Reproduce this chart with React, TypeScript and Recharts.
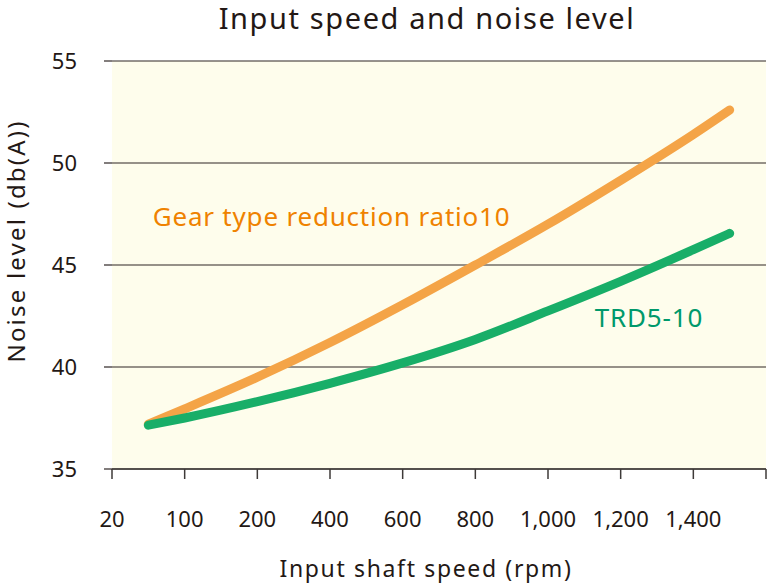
import React from 'react';
import {
  LineChart,
  Line,
  XAxis,
  YAxis,
  CartesianGrid,
  ReferenceDot,
  Label,
} from 'recharts';

// axis slots: 20, 100, 200, 400 ... 1,400 sit on equal steps, last slot unlabelled
const speedTicks = ['20', '100', '200', '400', '600', '800', '1,000', '1,200', '1,400', ''];
const slots = [0.5, 1, 2, 3, 4, 5, 6, 7, 8, 8.5];
const gearNoise = [37.2, 37.95, 39.5, 41.2, 43.05, 45.0, 47.0, 49.15, 51.4, 52.6];
const trdNoise = [37.15, 37.5, 38.3, 39.2, 40.2, 41.35, 42.75, 44.2, 45.75, 46.55];
const noiseTicks = [35, 40, 45, 50, 55];

const INK = '#231815';
const FONT = '"Noto Sans", sans-serif';

const data = slots.map((s, i) => ({ slot: s, gear: gearNoise[i], trd: trdNoise[i] }));

const annotation = (text: string, color: string) => (props: any) => {
  const { viewBox } = props;
  return (
    <text
      x={viewBox.x}
      y={viewBox.y}
      fill={color}
      fontSize={26}
      fontFamily={FONT}
      style={{ letterSpacing: '0.8px' }}
    >
      {text}
    </text>
  );
};

export default function App() {
  return (
    <div style={{ position: 'relative', width: 767, height: 587, fontFamily: FONT }}>
      <style>{'body{margin:0}'}</style>
      <div
        style={{
          position: 'absolute',
          left: 427,
          top: 3,
          transform: 'translateX(-50%)',
          whiteSpace: 'nowrap',
          fontSize: 29,
          lineHeight: '29px',
          letterSpacing: '1.6px',
          color: INK,
        }}
      >
        Input speed and noise level
      </div>
      <LineChart width={767} height={587} data={data} margin={{ top: 61, right: 1, left: 0, bottom: 0 }}>
        <CartesianGrid vertical={false} stroke="#2f2725" strokeWidth={1.2} fill="#FEFDEC" />
        <XAxis
          dataKey="slot"
          type="number"
          domain={[0, 9]}
          ticks={[0, 1, 2, 3, 4, 5, 6, 7, 8, 9]}
          tickFormatter={(v: number) => speedTicks[v] ?? ''}
          height={118}
          tickSize={10}
          tickMargin={32}
          stroke="#3e3a39"
          strokeWidth={1.5}
          tick={{ fill: INK, fontSize: 22, fontFamily: FONT }}
          interval={0}
        >
          <Label
            content={(p: any) => (
              <text
                x={p.viewBox.x + p.viewBox.width / 2 - 13}
                y={p.viewBox.y + 107.5}
                textAnchor="middle"
                fill={INK}
                fontSize={23}
                fontFamily={FONT}
                style={{ letterSpacing: '1.65px' }}
              >
                Input shaft speed (rpm)
              </text>
            )}
          />
        </XAxis>
        <YAxis
          domain={[35, 55]}
          ticks={noiseTicks}
          width={112}
          axisLine={false}
          tickSize={8}
          tickMargin={27}
          tickLine={{ stroke: '#2f2725', strokeWidth: 1.2 }}
          tick={{ fill: INK, fontSize: 22, fontFamily: FONT }}
          interval={0}
        >
          <Label
            content={() => (
              <text
                x={25}
                y={241}
                transform="rotate(-90, 25, 241)"
                textAnchor="middle"
                fill={INK}
                fontSize={24}
                fontFamily={FONT}
                style={{ letterSpacing: '2.2px' }}
              >
                Noise level (db(A))
              </text>
            )}
          />
        </YAxis>
        <Line
          dataKey="gear"
          type="monotone"
          stroke="#F4A447"
          strokeWidth={9}
          strokeLinecap="round"
          dot={false}
          isAnimationActive={false}
        />
        <Line
          dataKey="trd"
          type="monotone"
          stroke="#18AE68"
          strokeWidth={9}
          strokeLinecap="round"
          dot={false}
          isAnimationActive={false}
        />
        <ReferenceDot
          x={0.56}
          y={46.93}
          r={0}
          fill="none"
          stroke="none"
          label={{ content: annotation('Gear type reduction ratio10', '#EF8200') }}
        />
        <ReferenceDot
          x={6.645}
          y={41.98}
          r={0}
          fill="none"
          stroke="none"
          label={{ content: annotation('TRD5-10', '#00996B') }}
        />
      </LineChart>
    </div>
  );
}
